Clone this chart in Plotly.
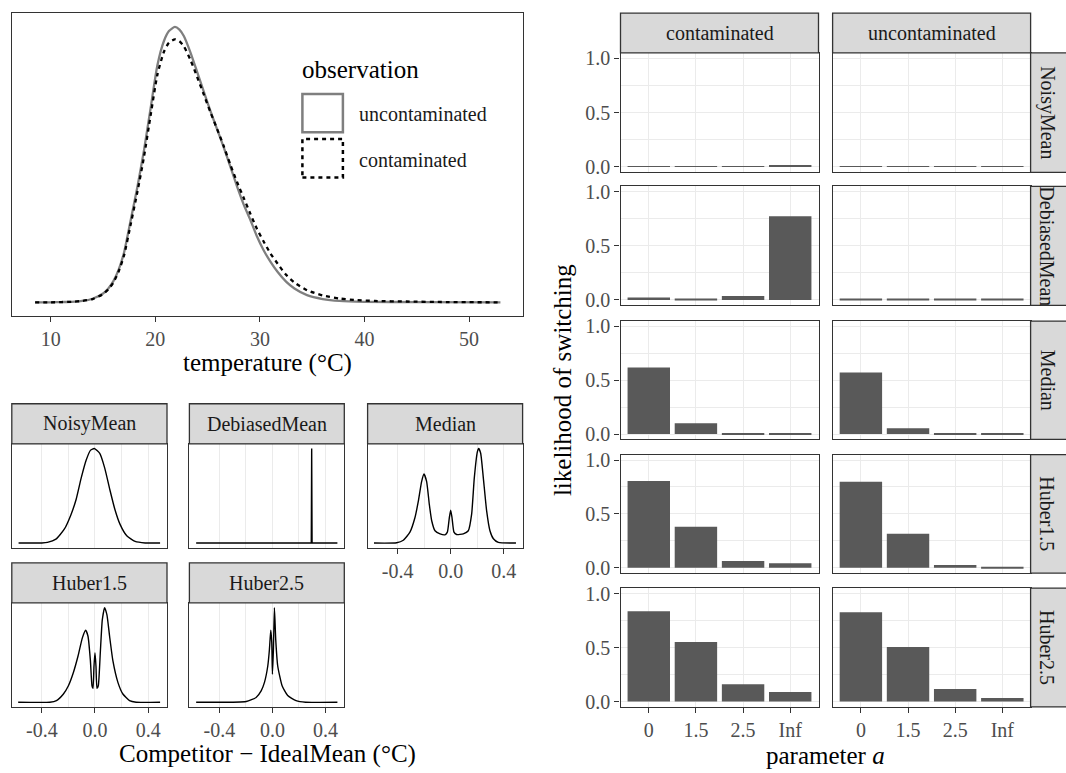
import plotly.graph_objects as go

# ---------------- data ----------------
temp_x = [8.5, 10, 11, 12, 13, 14, 15, 15.5, 16, 16.5, 17, 17.65, 18.29, 18.91, 19.55,
          20.19, 20.82, 21.3, 21.87, 22.3, 22.72, 23.36, 24.0, 24.63, 25.27, 25.9,
          26.53, 27.17, 27.81, 28.44, 29.08, 29.71, 30.34, 31.0, 31.7, 32.5, 33.3,
          34.5, 36.0, 37.6, 40, 45, 53]
dens_uncontaminated = [0, 0.0, 0.001, 0.002, 0.005, 0.013, 0.032, 0.05, 0.078, 0.12, 0.18,
                       0.30, 0.421, 0.552, 0.706, 0.86, 0.949, 0.985, 1.0, 0.99, 0.967,
                       0.907, 0.836, 0.765, 0.694, 0.629, 0.564, 0.493, 0.421, 0.356,
                       0.30, 0.24, 0.19, 0.148, 0.11, 0.075, 0.05, 0.026, 0.012, 0.005,
                       0.002, 0.001, 0]
temp_x_c = [8.5, 10, 11, 12, 13, 14, 15, 15.5, 16, 16.5, 17, 17.65, 18.29, 18.91, 19.55,
            20.19, 20.82, 21.3, 21.87, 22.3, 22.72, 23.36, 24.0, 24.63, 25.27, 25.9,
            26.53, 27.17, 27.81, 28.44, 29.08, 29.71, 30.34, 31.0, 31.7, 32.5, 33.3,
            34.5, 36.0, 37.6, 39.3, 41, 44, 48, 53]
dens_contaminated = [0, 0, 0.001, 0.002, 0.005, 0.012, 0.03, 0.047, 0.073, 0.113, 0.17,
                     0.285, 0.403, 0.528, 0.68, 0.826, 0.91, 0.943, 0.955, 0.948, 0.93,
                     0.88, 0.818, 0.755, 0.69, 0.63, 0.568, 0.50, 0.437, 0.38, 0.322,
                     0.267, 0.222, 0.178, 0.14, 0.10, 0.072, 0.044, 0.025, 0.014, 0.008,
                     0.005, 0.003, 0.001, 0]

noisy_x = [-0.575, -0.40, -0.358, -0.294, -0.231, -0.18, -0.142, -0.104, -0.066, -0.033,
           -0.005, 0.036, 0.074, 0.112, 0.15, 0.188, 0.239, 0.302, 0.378, 0.49]
noisy_y = [0, 0.001, 0.007, 0.042, 0.146, 0.303, 0.46, 0.686, 0.878, 0.983, 1.0, 0.948,
           0.79, 0.564, 0.355, 0.2, 0.077, 0.017, 0.001, 0]
debiased_x = [-0.575, 0.293, 0.296, 0.299, 0.49]
debiased_y = [0, 0, 1.0, 0, 0]
median_x = [-0.578, -0.407, -0.357, -0.307, -0.269, -0.244, -0.219, -0.201, -0.181, -0.161,
            -0.143, -0.118, -0.080, -0.043, -0.025, -0.010, 0.0, 0.010, 0.025, 0.045,
            0.095, 0.133, 0.158, 0.178, 0.201, 0.211, 0.226, 0.246, 0.271, 0.296, 0.322,
            0.359, 0.492]
median_y = [0, 0.003, 0.03, 0.115, 0.27, 0.44, 0.65, 0.73, 0.65, 0.41, 0.236, 0.13, 0.097,
            0.087, 0.115, 0.27, 0.347, 0.27, 0.115, 0.09, 0.097, 0.13, 0.305, 0.69, 0.965,
            1.0, 0.95, 0.69, 0.34, 0.13, 0.045, 0.007, 0]
huber15_x = [-0.578, -0.34, -0.29, -0.2375, -0.2, -0.1625, -0.1275, -0.095, -0.07, -0.0525,
             -0.035, -0.0225, -0.015, -0.0075, 0.0, 0.0075, 0.015, 0.025, 0.04, 0.055,
             0.0725, 0.09, 0.11, 0.135, 0.1725, 0.21, 0.26, 0.31, 0.49]
huber15_y = [0, 0.0, 0.017, 0.087, 0.174, 0.314, 0.488, 0.68, 0.76, 0.697, 0.45, 0.174,
             0.146, 0.38, 0.523, 0.38, 0.146, 0.174, 0.523, 0.87, 1.0, 0.923, 0.697, 0.436,
             0.21, 0.087, 0.017, 0.0, 0]
huber25_x = [-0.575, -0.198, -0.123, -0.085, -0.06, -0.035, -0.0226, -0.0125, -0.005, 0.0,
             0.0075, 0.015, 0.025, 0.04, 0.073, 0.115, 0.178, 0.25, 0.49]
huber25_y = [0, 0.007, 0.05, 0.12, 0.21, 0.383, 0.557, 0.76, 0.63, 0.296, 0.557, 1.0, 0.66,
             0.383, 0.174, 0.07, 0.017, 0.0, 0]

param_a = ["0", "1.5", "2.5", "Inf"]
methods = ["NoisyMean", "DebiasedMean", "Median", "Huber1.5", "Huber2.5"]
observations = ["contaminated", "uncontaminated"]
switch_contaminated_NoisyMean = [0.008, 0.008, 0.008, 0.015]
switch_contaminated_DebiasedMean = [0.021, 0.009, 0.036, 0.773]
switch_contaminated_Median = [0.618, 0.100, 0.009, 0.010]
switch_contaminated_Huber15 = [0.806, 0.379, 0.061, 0.042]
switch_contaminated_Huber25 = [0.836, 0.552, 0.161, 0.088]
switch_uncontaminated_NoisyMean = [0.007, 0.007, 0.007, 0.007]
switch_uncontaminated_DebiasedMean = [0.007, 0.007, 0.007, 0.007]
switch_uncontaminated_Median = [0.573, 0.055, 0.006, 0.006]
switch_uncontaminated_Huber15 = [0.797, 0.315, 0.024, 0.006]
switch_uncontaminated_Huber25 = [0.827, 0.506, 0.115, 0.033]

temp_ticks = [10, 20, 30, 40, 50]
diff_ticks = [-0.4, 0.0, 0.4]
diff_ticktext = ["-0.4", "0.0", "0.4"]
switch_ticks = [0, 0.5, 1.0]
switch_ticktext = ["0.0", "0.5", "1.0"]

# ---------------- styling / layout helpers ----------------
W, H = 1066, 773
FONT = '"Liberation Serif", "Times New Roman", serif'
SMALL = 20
BIG = 25
TICKC = "#4D4D4D"
BORDER = "#333333"
GRID = "#EBEBEB"
STRIP = "#D9D9D9"


def fx(p):
    return p / W


def fy(p):
    return 1 - p / H


fig = go.Figure()
layout = dict(width=W, height=H, margin=dict(l=0, r=0, t=0, b=0),
              paper_bgcolor="white", plot_bgcolor="white", showlegend=False,
              font=dict(family=FONT, size=SMALL, color="#1A1A1A"))
shapes = []
annotations = []


def ax_names(n):
    s = "" if n == 1 else str(n)
    return "xaxis" + s, "yaxis" + s, "x" + s, "y" + s


def add_axes(n, xdom, ydom, xcfg, ycfg):
    xa, ya, xr, yr = ax_names(n)
    base = dict(showline=True, mirror=True, linecolor=BORDER, linewidth=1.3,
                zeroline=False, fixedrange=True)
    layout[xa] = dict(domain=[fx(xdom[0]), fx(xdom[1])], anchor=yr, **base, **xcfg)
    layout[ya] = dict(domain=[fy(ydom[1]), fy(ydom[0])], anchor=xr, **base, **ycfg)
    return xr, yr


def strip(x0, x1, y0, y1, text, vertical=False, tx=None):
    shapes.append(dict(type="rect", xref="paper", yref="paper",
                       x0=fx(x0), x1=fx(x1), y0=fy(y1), y1=fy(y0),
                       fillcolor=STRIP, line=dict(color=BORDER, width=1.3), layer="above"))
    cx = (x0 + x1) / 2 if tx is None else tx
    annotations.append(dict(xref="paper", yref="paper", x=fx(cx),
                            y=fy((y0 + y1) / 2), text=text, showarrow=False,
                            textangle=90 if vertical else 0,
                            font=dict(family=FONT, size=SMALL, color="#1A1A1A"),
                            xanchor="center", yanchor="middle"))


def label(x, y, text, size=BIG, angle=0, xanchor="center", color="black"):
    annotations.append(dict(xref="paper", yref="paper", x=fx(x), y=fy(y), text=text,
                            showarrow=False, textangle=angle, xanchor=xanchor,
                            yanchor="middle", font=dict(family=FONT, size=size, color=color)))


tickfont = dict(family=FONT, size=SMALL, color=TICKC)
noy = dict(showticklabels=False, ticks="", showgrid=False, range=[-0.05, 1.05])

# ---------------- top-left density ----------------
xr, yr = add_axes(1, (11.8, 522.6), (7.3, 315),
                  dict(range=[6.27, 55.12], tickvals=temp_ticks, ticks="outside", ticklen=5,
                       tickwidth=1.3, tickcolor=BORDER, tickfont=tickfont, showgrid=False),
                  noy)
fig.add_trace(go.Scatter(x=temp_x, y=dens_uncontaminated, mode="lines", xaxis=xr, yaxis=yr,
                         line=dict(color="#7F7F7F", width=2.3, shape="spline", smoothing=0.6)))
fig.add_trace(go.Scatter(x=temp_x_c, y=dens_contaminated, mode="lines", xaxis=xr, yaxis=yr,
                         line=dict(color="black", width=2.3, dash="4px,4px", shape="spline",
                                   smoothing=0.6)))
label(267.2, 363, "temperature (°C)")
# legend drawn inside panel
label(300, 64, "observation", xanchor="left")
shapes.append(dict(type="rect", xref="paper", yref="paper", x0=fx(302.4), x1=fx(342.9),
                   y0=fy(128.3), y1=fy(89.3), line=dict(color="#7F7F7F", width=2.5)))
shapes.append(dict(type="rect", xref="paper", yref="paper", x0=fx(302.4), x1=fx(342.9),
                   y0=fy(174.3), y1=fy(135), line=dict(color="black", width=2.5, dash="4px,4px")))
label(357.4, 110, observations[1], size=SMALL, xanchor="left", color="#1A1A1A")
label(357.4, 156, observations[0], size=SMALL, xanchor="left", color="#1A1A1A")

# ---------------- small multiples ----------------
sm_cols = [(11.8, 167.0), (189.4, 344.3), (367.6, 522.6)]
sm_rows = [((404, 444.7), (444.7, 550.3)), ((565.7, 606.3), (606.3, 712))]
sm_data = [("NoisyMean", noisy_x, noisy_y, 0, 0, False),
           ("DebiasedMean", debiased_x, debiased_y, 0, 1, False),
           ("Median", median_x, median_y, 0, 2, True),
           ("Huber1.5", huber15_x, huber15_y, 1, 0, True),
           ("Huber2.5", huber25_x, huber25_y, 1, 1, True)]
n = 2
for name, xs, ys, r, c, showx in sm_data:
    (sy0, sy1), (py0, py1) = sm_rows[r]
    cx0, cx1 = sm_cols[c]
    xcfg = dict(range=[-0.626, 0.542], tickvals=diff_ticks, ticktext=diff_ticktext,
                showgrid=True, gridcolor=GRID, gridwidth=1.4,
                minor=dict(tickvals=[-0.2, 0.2], showgrid=True, gridcolor=GRID, gridwidth=0.8),
                ticks="outside" if showx else "", ticklen=5, tickwidth=1.3, tickcolor=BORDER,
                showticklabels=showx, tickfont=tickfont)
    xr, yr = add_axes(n, (cx0, cx1), (py0, py1), xcfg, noy)
    shp = "linear" if name == "DebiasedMean" else "spline"
    fig.add_trace(go.Scatter(x=xs, y=ys, mode="lines", xaxis=xr, yaxis=yr,
                             line=dict(color="black", width=1.4, shape=shp, smoothing=0.5)))
    strip(cx0, cx1, sy0, sy1, name)
    n += 1
label(267.2, 760, "Competitor − IdealMean (°C)")

# ---------------- right: likelihood of switching bars ----------------
bar_cols = [(620.5, 818.5), (832.6, 1030.6)]
bar_rows = [(47.7, 169), (183.3, 304), (320, 440.3), (455.7, 576), (591.3, 712)]
bar_values = {
    ("contaminated", "NoisyMean"): switch_contaminated_NoisyMean,
    ("contaminated", "DebiasedMean"): switch_contaminated_DebiasedMean,
    ("contaminated", "Median"): switch_contaminated_Median,
    ("contaminated", "Huber1.5"): switch_contaminated_Huber15,
    ("contaminated", "Huber2.5"): switch_contaminated_Huber25,
    ("uncontaminated", "NoisyMean"): switch_uncontaminated_NoisyMean,
    ("uncontaminated", "DebiasedMean"): switch_uncontaminated_DebiasedMean,
    ("uncontaminated", "Median"): switch_uncontaminated_Median,
    ("uncontaminated", "Huber1.5"): switch_uncontaminated_Huber15,
    ("uncontaminated", "Huber2.5"): switch_uncontaminated_Huber25,
}
for ri, m in enumerate(methods):
    for ci, obs in enumerate(observations):
        bottom = ri == len(methods) - 1
        left = ci == 0
        xcfg = dict(type="category", categoryorder="array", categoryarray=param_a,
                    range=[-0.6, 3.6], showgrid=True, gridcolor=GRID, gridwidth=1.4,
                    ticks="outside" if bottom else "", ticklen=5, tickwidth=1.3,
                    tickcolor=BORDER, showticklabels=bottom, tickfont=tickfont)
        ycfg = dict(range=[-0.05, 1.05], tickvals=switch_ticks, ticktext=switch_ticktext,
                    showgrid=True, gridcolor=GRID, gridwidth=1.4,
                    minor=dict(tickvals=[0.25, 0.75], showgrid=True, gridcolor=GRID,
                               gridwidth=0.8),
                    ticks="outside" if left else "", ticklen=5, tickwidth=1.3,
                    tickcolor=BORDER, showticklabels=left, tickfont=tickfont)
        xr, yr = add_axes(n, bar_cols[ci], bar_rows[ri], xcfg, ycfg)
        fig.add_trace(go.Bar(x=param_a, y=bar_values[(obs, m)], xaxis=xr, yaxis=yr,
                             width=0.9, marker=dict(color="#595959", line=dict(width=0))))
        n += 1
for ci, obs in enumerate(observations):
    strip(bar_cols[ci][0], bar_cols[ci][1], 7.3, 47.7, obs)
for ri, m in enumerate(methods):
    strip(1030.6, 1075, bar_rows[ri][0], bar_rows[ri][1], m, vertical=True, tx=1047.5)
label(825.5, 761, "parameter <i>a</i>")
label(562, 380, "likelihood of switching", angle=-90)

layout["shapes"] = shapes
layout["annotations"] = annotations
fig.update_layout(**layout)
fig.write_html("out.html", config={"displayModeBar": False},
               post_script="document.body.style.margin='0px';document.body.style.padding='0px';")
